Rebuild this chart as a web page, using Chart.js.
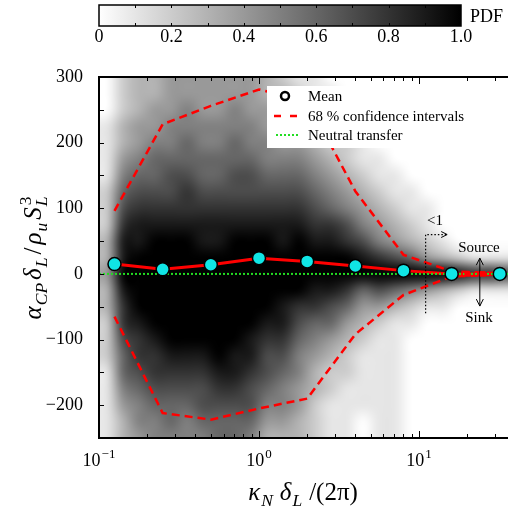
<!DOCTYPE html>
<html>
<head>
<meta charset="utf-8">
<script src="https://cdn.jsdelivr.net/npm/chart.js@4.4.0/dist/chart.umd.min.js"></script>
<style>
  html, body { margin: 0; padding: 0; background: #fff; }
  canvas { display: block; }
</style>
</head>
<body>
<canvas id="chart" width="508" height="511"></canvas>
<script>
// Data
const binX    = [0.125, 0.25, 0.5, 1, 2, 4, 8, 16, 32];
const meanVal = [15, 7, 14, 24, 19, 12, 5, 0, 0];
const ciHigh  = [96, 228, 256, 281, 264, 126, 29, 4, 1];
const ciLow   = [-65, -212, -222, -205, -190, -92, -32, -4, -1];
const tailX   = [20, 25];
const tailVal = [0, 0];
const neutralX = [0.1, 40];
const neutralY = [0, 0];
const cutX = [11, 11, 15];
const cutY = [-60, 60, 60];
const arrowX = [24, 24];
const arrowY = [-49, 24];
const noteText = ['<1', 'Source', 'Sink'];
const noteX = [12.6, 23.7, 23.7];
const noteY = [81, 40, -67];
const xTicks = [0.1, 1, 10];
const xTickExp = ['\u22121', '0', '1'];
const yTicks = [-200, -100, 0, 100, 200, 300];
const cbarTicks = [0, 0.2, 0.4, 0.6, 0.8, 1.0];
const cbarText = ['0', '0.2', '0.4', '0.6', '0.8', '1.0'];

// PDF map: column centres in log10(x), row centres in y, values in tenths
const pdfLogX = [-0.95, -0.85, -0.75, -0.65, -0.55, -0.45, -0.35, -0.25, -0.15, -0.05, 0.05, 0.15, 0.25,
                 0.35, 0.45, 0.55, 0.65, 0.75, 0.85, 0.95, 1.05, 1.15, 1.25, 1.35, 1.45, 1.55];
const pdfY = [300, 275, 250, 225, 200, 175, 150, 125, 100, 75, 50, 25, 0,
              -25, -50, -75, -100, -125, -150, -175, -200, -225, -250];
const pdfCols = [
  [0,0,0,1,1,1,1,2,2,2,3,3,4,3,3,2,2,2,1,1,1,1,1],
  [2,2,2,3,3,4,5,6,7,8,9,9,10,9,8,8,7,6,6,5,4,3,3],
  [3,3,3,4,4,5,6,7,8,9,9,10,10,10,10,9,8,8,7,6,5,5,4],
  [3,3,4,4,5,6,6,7,8,9,10,10,10,10,10,10,9,8,8,7,6,5,5],
  [4,4,4,5,5,6,7,7,8,9,10,10,10,10,10,10,10,9,8,7,6,6,5],
  [4,4,5,5,6,6,7,8,8,9,10,10,10,10,10,10,10,9,8,7,6,5,5],
  [4,4,4,5,5,6,6,7,8,9,9,10,10,10,10,10,10,9,8,7,7,6,5],
  [4,4,4,5,5,6,6,7,8,9,9,10,10,10,10,10,10,10,9,8,7,6,6],
  [4,4,5,5,6,6,7,7,8,9,10,10,10,10,10,10,10,9,9,8,7,6,6],
  [4,4,4,5,5,6,7,7,8,9,10,10,10,10,10,10,9,9,8,7,7,6,5],
  [3,3,4,4,5,5,6,7,8,9,10,10,10,10,10,9,8,7,7,6,5,4,3],
  [2,3,3,4,4,5,6,7,8,9,9,10,10,10,9,9,8,7,6,5,5,4,3],
  [1,2,2,3,4,5,6,7,8,9,10,10,10,10,8,7,6,5,5,4,4,3,3],
  [1,1,2,2,3,4,5,6,7,8,9,10,10,9,8,6,5,4,3,3,2,2,2],
  [0,1,1,2,2,3,4,5,6,8,9,10,10,9,7,6,4,3,2,2,1,1,1],
  [0,0,1,1,2,2,3,4,5,7,8,10,10,8,6,4,3,2,2,1,1,1,1],
  [0,0,0,1,1,1,2,3,4,5,7,9,10,6,4,3,2,1,1,1,1,0,0],
  [0,0,0,0,0,1,1,2,3,4,5,8,10,7,4,2,1,1,1,1,1,1,1],
  [0,0,0,0,0,0,1,1,2,3,4,7,10,6,3,1,1,1,1,1,1,1,1],
  [0,0,0,0,0,0,0,1,1,2,3,6,10,5,2,1,0,0,0,0,0,0,0],
  [0,0,0,0,0,0,0,0,1,1,2,4,10,4,1,0,0,0,0,0,0,0,0],
  [0,0,0,0,0,0,0,0,0,0,1,3,10,3,1,0,0,0,0,0,0,0,0],
  [0,0,0,0,0,0,0,0,0,0,0,2,9,2,0,0,0,0,0,0,0,0,0],
  [0,0,0,0,0,0,0,0,0,0,0,1,8,1,0,0,0,0,0,0,0,0,0],
  [0,0,0,0,0,0,0,0,0,0,0,1,8,1,0,0,0,0,0,0,0,0,0],
  [0,0,0,0,0,0,0,0,0,0,0,1,7,1,0,0,0,0,0,0,0,0,0]
];

const SERIF = '"Liberation Serif", "DejaVu Serif", serif';
const pts = (xs, ys) => xs.map((x, i) => ({ x, y: ys[i] }));

// grayscale PDF under the datasets: one texel per cell, stretched over the
// cell bounds given by the scales, with smoothing so it reads as continuous
const heatmap = {
  id: 'heatmap',
  beforeDatasetsDraw(chart) {
    const { ctx, chartArea: a, scales: { x, y } } = chart;
    const nx = pdfCols.length, ny = pdfY.length;
    const src = document.createElement('canvas');
    src.width = nx; src.height = ny;
    const s = src.getContext('2d');
    const img = s.createImageData(nx, ny);
    pdfCols.forEach((col, i) => col.forEach((v, j) => {
      const g = Math.round(255 * (1 - v / 10));
      const k = (j * nx + i) * 4;
      img.data[k] = img.data[k + 1] = img.data[k + 2] = g;
      img.data[k + 3] = 255;
    }));
    s.putImageData(img, 0, 0);
    const hx = (pdfLogX[1] - pdfLogX[0]) / 2, hy = Math.abs(pdfY[0] - pdfY[1]) / 2;
    const x0 = x.getPixelForValue(10 ** (pdfLogX[0] - hx));
    const x1 = x.getPixelForValue(10 ** (pdfLogX[nx - 1] + hx));
    const y0 = y.getPixelForValue(pdfY[0] + hy);
    const y1 = y.getPixelForValue(pdfY[ny - 1] - hy);
    ctx.save();
    ctx.beginPath(); ctx.rect(a.left, a.top, a.right - a.left, a.bottom - a.top); ctx.clip();
    ctx.imageSmoothingEnabled = true;
    ctx.imageSmoothingQuality = 'high';
    ctx.drawImage(src, x0, y0, x1 - x0, y1 - y0);
    ctx.restore();
  }
};

// math-like label: subscripts hug their base, groups get a wider gap
function drawRich(ctx, parts, size, gap, cx, base, rotate) {
  const small = size * 0.7;
  const fontOf = (p, sz) => (p.i ? 'italic ' : '') + sz + 'px ' + SERIF;
  const space = k => (k === 0 ? 0 : parts[k].sub ? 1 : gap);
  let total = 0;
  const widths = parts.map((p, k) => {
    ctx.font = fontOf(p, p.sub ? small : size);
    let w = ctx.measureText(p.t).width;
    if (p.up) { ctx.font = fontOf({}, small); w = Math.max(w, ctx.measureText(p.up).width); }
    total += w + space(k);
    return w;
  });
  ctx.save();
  ctx.translate(cx, base);
  if (rotate) ctx.rotate(-Math.PI / 2);
  ctx.fillStyle = '#000'; ctx.textAlign = 'left'; ctx.textBaseline = 'alphabetic';
  let px = -total / 2;
  parts.forEach((p, k) => {
    px += space(k);
    ctx.font = fontOf(p, p.sub ? small : size);
    ctx.fillText(p.t, px, p.sub ? size * 0.24 : 0);
    if (p.up) { ctx.font = fontOf({}, small); ctx.fillText(p.up, px + 1, -size * 0.42); }
    px += widths[k];
  });
  ctx.restore();
}

function chevron(ctx, tx, ty, dx, dy, len, half) {
  // open arrow head pointing along (dx,dy)
  const nx = -dy, ny = dx;
  ctx.beginPath();
  ctx.moveTo(tx - dx * len + nx * half, ty - dy * len + ny * half);
  ctx.lineTo(tx, ty);
  ctx.lineTo(tx - dx * len - nx * half, ty - dy * len - ny * half);
  ctx.stroke();
}

const decor = {
  id: 'decor',
  afterDraw(chart) {
    const { ctx, chartArea: a, scales: { x, y } } = chart;
    ctx.save();

    // frame
    ctx.strokeStyle = '#000'; ctx.lineWidth = 2; ctx.setLineDash([]);
    ctx.beginPath();
    ctx.moveTo(chart.width, a.top); ctx.lineTo(a.left, a.top);
    ctx.lineTo(a.left, a.bottom); ctx.lineTo(chart.width, a.bottom);
    ctx.stroke();

    // inward ticks
    ctx.lineWidth = 1;
    ctx.beginPath();
    for (let v = -250; v <= 300; v += 50) {
      const py = Math.round(y.getPixelForValue(v)) + 0.5;
      ctx.moveTo(a.left, py); ctx.lineTo(a.left + 5, py);
    }
    for (let e = -1; e <= 1; e++) {
      for (let m = 1; m <= 9; m++) {
        const v = m * 10 ** e;
        if (v > x.max) break;
        const px = Math.round(x.getPixelForValue(v)) + 0.5;
        const len = m === 1 ? 7 : 4;
        ctx.moveTo(px, a.bottom); ctx.lineTo(px, a.bottom - len);
        ctx.moveTo(px, a.top); ctx.lineTo(px, a.top + len);
      }
    }
    ctx.stroke();

    // x tick labels: 10 with raised exponent
    ctx.fillStyle = '#000'; ctx.textBaseline = 'alphabetic'; ctx.textAlign = 'left';
    xTicks.forEach((v, i) => {
      ctx.font = '18px ' + SERIF;
      const wb = ctx.measureText('10').width;
      ctx.font = '13px ' + SERIF;
      const we = ctx.measureText(xTickExp[i]).width;
      const left = x.getPixelForValue(v) - (wb + we + 1) / 2;
      ctx.font = '18px ' + SERIF;
      ctx.fillText('10', left, 466);
      ctx.font = '13px ' + SERIF;
      ctx.fillText(xTickExp[i], left + wb + 1, 458);
    });

    // legend box
    const lx = 267, ly = 86;
    ctx.fillStyle = '#fff';
    ctx.fillRect(lx, ly, 218, 62);
    ctx.lineWidth = 2.5; ctx.strokeStyle = '#000';
    ctx.beginPath(); ctx.arc(lx + 18, ly + 10, 4, 0, Math.PI * 2); ctx.stroke();
    ctx.strokeStyle = '#ff0000'; ctx.lineWidth = 2.5; ctx.setLineDash([7, 9]);
    ctx.beginPath(); ctx.moveTo(lx + 7, ly + 30); ctx.lineTo(lx + 31, ly + 30); ctx.stroke();
    ctx.strokeStyle = '#22dd22'; ctx.lineWidth = 2; ctx.setLineDash([2, 2]);
    ctx.beginPath(); ctx.moveTo(lx + 9, ly + 49); ctx.lineTo(lx + 32, ly + 49); ctx.stroke();
    ctx.setLineDash([]);
    ctx.fillStyle = '#000'; ctx.font = '15px ' + SERIF; ctx.textAlign = 'left'; ctx.textBaseline = 'alphabetic';
    chart.data.datasets.filter(d => d.legendRow !== undefined).forEach(d => {
      ctx.fillText(d.label, lx + 41, ly + 15 + d.legendRow * 19.5);
    });

    // notes and arrows in data coordinates
    ctx.font = '15px ' + SERIF; ctx.textAlign = 'center'; ctx.textBaseline = 'middle';
    noteText.forEach((t, i) => ctx.fillText(t, x.getPixelForValue(noteX[i]), y.getPixelForValue(noteY[i])));
    ctx.strokeStyle = '#000'; ctx.lineWidth = 1;
    const last = cutX.length - 1;
    chevron(ctx, x.getPixelForValue(cutX[last]), y.getPixelForValue(cutY[last]), 1, 0, 6, 3);
    const ax = x.getPixelForValue(arrowX[0]);
    chevron(ctx, ax, y.getPixelForValue(arrowY[0]), 0, 1, 7, 3.5);
    chevron(ctx, ax, y.getPixelForValue(arrowY[1]), 0, -1, 7, 3.5);

    // colour bar
    const cb = { l: 99, r: 461, t: 5, b: 26 };
    const grad = ctx.createLinearGradient(cb.l, 0, cb.r, 0);
    grad.addColorStop(0, '#fff'); grad.addColorStop(1, '#000');
    ctx.fillStyle = grad;
    ctx.fillRect(cb.l, cb.t, cb.r - cb.l, cb.b - cb.t);
    ctx.strokeStyle = '#000'; ctx.lineWidth = 1.5;
    ctx.strokeRect(cb.l, cb.t, cb.r - cb.l, cb.b - cb.t);
    ctx.lineWidth = 1;
    ctx.beginPath();
    for (let k = 1; k < 10; k++) {
      const px = Math.round(cb.l + (cb.r - cb.l) * k / 10) + 0.5;
      ctx.moveTo(px, cb.t); ctx.lineTo(px, cb.t + 3);
      ctx.moveTo(px, cb.b); ctx.lineTo(px, cb.b - 3);
    }
    ctx.stroke();
    ctx.fillStyle = '#000'; ctx.font = '18px ' + SERIF; ctx.textAlign = 'center'; ctx.textBaseline = 'alphabetic';
    cbarTicks.forEach((v, i) => ctx.fillText(cbarText[i], cb.l + (cb.r - cb.l) * v, 42));
    ctx.textAlign = 'left';
    ctx.fillText('PDF', 470, 22);

    // axis titles
    drawRich(ctx, [
      { t: '\u03BA', i: true }, { t: 'N', i: true, sub: true }, { t: '\u03B4', i: true },
      { t: 'L', i: true, sub: true }, { t: '/(2\u03C0)' }
    ], 25, 7, 303, 500, false);
    drawRich(ctx, [
      { t: '\u03B1', i: true }, { t: 'CP', i: true, sub: true }, { t: '\u03B4', i: true },
      { t: 'L', i: true, sub: true }, { t: '/' }, { t: '\u03C1', i: true }, { t: 'u', i: true, sub: true },
      { t: 'S', i: true }, { t: 'L', i: true, sub: true, up: '3' }
    ], 25, 3, 41, 258, true);

    ctx.restore();
  }
};

new Chart(document.getElementById('chart'), {
  type: 'line',
  data: {
    datasets: [
      { label: '68 % confidence intervals', legendRow: 1, data: pts(binX, ciHigh), borderColor: '#ff0000',
        borderWidth: 2.5, borderDash: [8, 5], pointRadius: 0, order: 6 },
      { label: 'ci-low', data: pts(binX, ciLow), borderColor: '#ff0000',
        borderWidth: 2.5, borderDash: [8, 5], pointRadius: 0, order: 6 },
      { label: 'mean-line', data: pts(binX, meanVal), borderColor: '#ff0000', borderWidth: 3,
        borderJoinStyle: 'round', pointRadius: 0, order: 5 },
      { label: 'Neutral transfer', legendRow: 2, data: pts(neutralX, neutralY), borderColor: '#22dd22',
        borderWidth: 2, borderDash: [2, 2], pointRadius: 0, order: 4 },
      { label: 'tail', data: pts(tailX, tailVal), showLine: false, pointStyle: 'rect', pointRadius: 4,
        pointBackgroundColor: '#ff0000', pointBorderWidth: 0, order: 3 },
      { label: 'cut', data: pts(cutX, cutY), borderColor: '#000', borderWidth: 1.2, borderDash: [1.5, 2],
        pointRadius: 0, order: 3 },
      { label: 'arrow', data: pts(arrowX, arrowY), borderColor: '#000', borderWidth: 1, pointRadius: 0, order: 3 },
      { label: 'Mean', legendRow: 0, data: pts(binX, meanVal), showLine: false, pointRadius: 6.5,
        pointBackgroundColor: '#10e6e6', pointBorderColor: '#000', pointBorderWidth: 1.5, order: 1 }
    ]
  },
  options: {
    responsive: false,
    animation: false,
    events: [],
    layout: { autoPadding: false, padding: { top: 77, left: 0, right: 0, bottom: 0 } },
    plugins: { legend: { display: false }, tooltip: { enabled: false }, title: { display: false } },
    scales: {
      x: {
        type: 'logarithmic', min: 0.1, max: 36,
        grid: { display: false }, border: { display: false },
        afterBuildTicks: s => { s.ticks = xTicks.map(v => ({ value: v })); },
        afterFit: s => { s.height = 73; s.paddingLeft = 0; s.paddingRight = 0; },
        ticks: { display: false }
      },
      y: {
        type: 'linear', min: -250, max: 300,
        grid: { display: false }, border: { display: false },
        afterBuildTicks: s => { s.ticks = yTicks.map(v => ({ value: v })); },
        afterFit: s => { s.width = 99; },
        ticks: {
          padding: 8, color: '#000',
          font: { family: SERIF, size: 18 },
          callback: v => (v < 0 ? '\u2212' + Math.abs(v) : String(v))
        }
      }
    }
  },
  plugins: [heatmap, decor]
});
</script>
</body>
</html>
